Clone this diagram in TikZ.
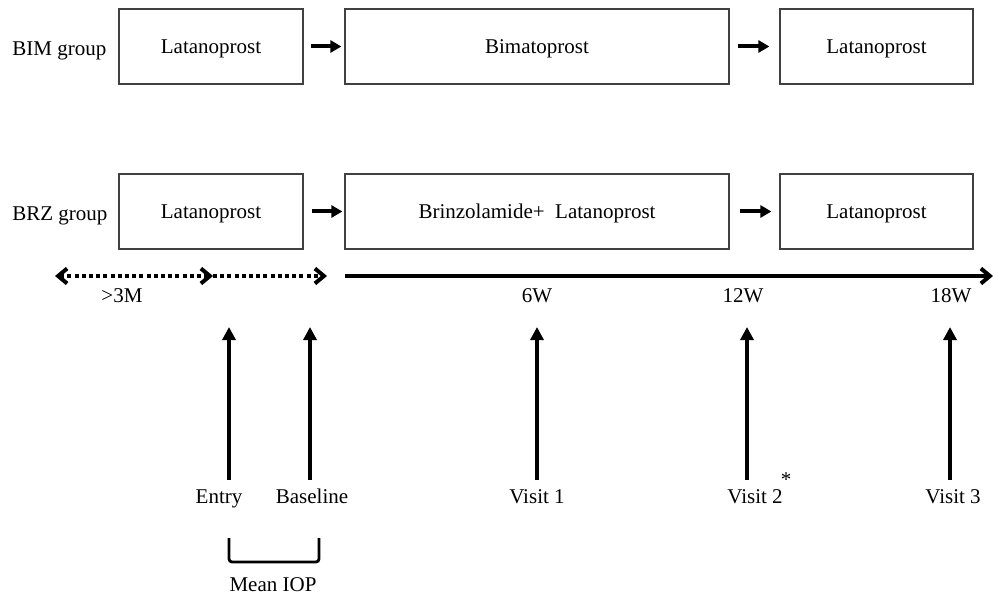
\documentclass[tikz,border=0pt]{standalone}
\usepackage{fontspec}
\setmainfont{Liberation Serif}
\usetikzlibrary{arrows.meta}
\tikzset{
	drugbox/.style={draw=black!75,line width=0.6pt,minimum height=37.5pt,inner sep=0pt,text depth=0pt},
	boxarrow/.style={-{Triangle[length=5.5pt,width=6pt]},line width=2pt},
	visitarrow/.style={-{Triangle[length=6.5pt,width=6.5pt]},line width=2.2pt},
	timeline/.style={line width=2pt,{Straight Barb[length=4.5pt,width=7.5pt]}-{Straight Barb[length=4.5pt,width=7.5pt]}},
}
\begin{document}
\begin{tikzpicture}[x=0.5pt,y=-0.5pt,every node/.style={font=\fontsize{10.5pt}{12pt}\selectfont}]
			\useasboundingbox (0,0) rectangle (994,598);
			% BIM group
			\node[anchor=base west,inner sep=0pt] (bimlab) at (12,56) {BIM group};
			\node[drugbox,minimum width=92pt] (bim1) at (211,46.5) {Latanoprost};
			\node[drugbox,minimum width=192pt] (bim2) at (537,46.5) {Bimatoprost};
			\node[drugbox,minimum width=96.5pt] (bim3) at (876.5,46.5) {Latanoprost};
			\draw[boxarrow,shorten <=3.5pt,shorten >=1.5pt] (bim1.east) -- (bim2.west);
			\draw[boxarrow,shorten <=4pt,shorten >=5pt] (bim2.east) -- (bim3.west);
			% BRZ group
			\node[anchor=base west,inner sep=0pt] (brzlab) at (12,221) {BRZ group};
			\node[drugbox,minimum width=92pt] (brz1) at (211,211.5) {Latanoprost};
			\node[drugbox,minimum width=192pt] (brz2) at (537,211.5) {Brinzolamide+\ \ Latanoprost};
			\node[drugbox,minimum width=96.5pt] (brz3) at (876.5,211.5) {Latanoprost};
			\draw[boxarrow,shorten <=4pt,shorten >=1pt] (brz1.east) -- (brz2.west);
			\draw[boxarrow,shorten <=5pt,shorten >=4pt] (brz2.east) -- (brz3.west);
			% Time line
			\coordinate (run) at (55,276);
			\coordinate (entry) at (213,276);
			\coordinate (base) at (327,276);
			\coordinate (start) at (345,276);
			\coordinate (stop) at (993,276);
			\draw[timeline,dash pattern=on 2pt off 1.6pt] (run) -- (entry);
			\draw[timeline,-{Straight Barb[length=4.5pt,width=7.5pt]},dash pattern=on 2pt off 1.6pt] (entry) -- (base);
			\draw[timeline,-{Straight Barb[length=4.5pt,width=7.5pt]}] (start) -- (stop);
			\node[anchor=base] (run3m) at (122,302) {>3M};
			\node[anchor=base] (w6) at (537,302) {6W};
			\node[anchor=base] (w12) at (743,302) {12W};
			\node[anchor=base] (w18) at (951,302) {18W};
			% Visits
			\foreach \x/\n in {229/ent,310/bas,537/vone,747/vtwo,950/vthree} {
				\coordinate (\n b) at (\x,480);
				\coordinate (\n t) at (\x,327);
				\draw[visitarrow] (\n b) -- (\n t);
			}
			\node[anchor=base] (entrylab) at (219,503) {Entry};
			\node[anchor=base] (baselab) at (312,503) {Baseline};
			\node[anchor=base] (v1lab) at (537,503) {Visit 1};
			\node[anchor=base] (v2lab) at (755,503) {Visit 2};
			\node (star) at (786,480) {*};
			\node[anchor=base] (v3lab) at (953,503) {Visit 3};
			% Mean IOP
			\coordinate (bl) at (229,538);
			\coordinate (br) at (319,538);
			\draw[line width=1.4pt,rounded corners=1.5pt] (bl) -- (229,562) -- (319,562) -- (br);
			\node[anchor=base] (iop) at (273,591) {Mean IOP};
		\end{tikzpicture}
\end{document}
